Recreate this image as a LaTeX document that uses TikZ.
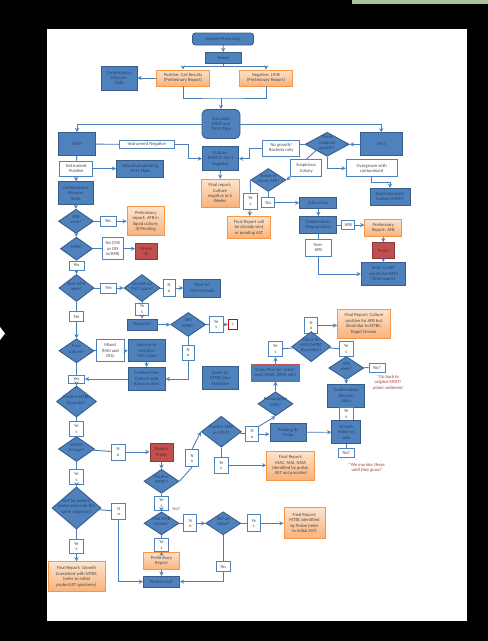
\documentclass[tikz,border=0pt]{standalone}
\usepackage{fontspec}
\setmainfont{Carlito}
\usetikzlibrary{shapes.geometric}

\definecolor{bfill}{HTML}{4F81BD}
\definecolor{bord}{HTML}{385D8A}
\definecolor{btext}{HTML}{24446E}
\definecolor{ofilltop}{HTML}{FDE3CC}
\definecolor{ofillbot}{HTML}{F9B27A}
\definecolor{oborder}{HTML}{F79646}
\definecolor{otext}{HTML}{4A4A4A}
\definecolor{rfill}{HTML}{C0504D}
\definecolor{rborder}{HTML}{8C3836}
\definecolor{rtext}{HTML}{6E2422}
\definecolor{lcol}{HTML}{4A7EBB}
\definecolor{notered}{HTML}{A0403E}
\definecolor{topbar}{HTML}{A9C29A}

\newcommand{\dtxt}[1]{\smash{\makebox[0pt]{\begin{tabular}{@{}c@{}}#1\end{tabular}}}}

\begin{document}
\begin{tikzpicture}[x=1pt,y=-1pt,
  font=\fontsize{4.6}{5.4}\selectfont, >=stealth,
  sz/.style 2 args={minimum width=#1,minimum height=#2},
  bbox/.style={rectangle,draw=bord,fill=bfill,line width=0.9pt,text=btext,align=center,inner sep=0.5pt},
  rbox/.style={bbox,rounded corners=3pt},
  obox/.style={rectangle,draw=oborder,top color=ofilltop,bottom color=ofillbot,line width=0.9pt,text=otext,align=center,inner sep=0.5pt},
  wbox/.style={rectangle,draw=bfill,fill=white,line width=0.9pt,text=otext,align=center,inner sep=0.5pt},
  redb/.style={rectangle,draw=rborder,fill=rfill,line width=0.9pt,text=rtext,align=center,inner sep=0.5pt},
  dec/.style={diamond,draw=bord,fill=bfill,line width=0.9pt,text=btext,inner sep=0pt},
  note/.style={text=notered,align=center,inner sep=0pt},
  con/.style={draw=lcol,line width=0.9pt},
  arr/.style={con,->}]

\useasboundingbox (0,0) rectangle (488,641);
\fill[black] (0,0) rectangle (488,641);
\fill[topbar] (352,0) rectangle (488,4);
\fill[white] (0,327) -- (5,333.5) -- (0,340) -- cycle;
\fill[white] (47,29) rectangle (467,621);

% top of the chart
\node[rbox,sz={61}{12}] (proc) at (223,39) {Sample/Processing};
\node[bbox,sz={36}{11}] (smear) at (223.5,58) {Smear};
\node[obox,sz={53}{16}] (pos) at (183,78) {Positive: Call Results\\(Preliminary Report)};
\node[obox,sz={53}{16}] (neg) at (266,78) {Negative: LIMS\\(Preliminary Report)};
\node[bbox,sz={36}{24}] (confslide) at (119,78) {Confirmatory\\Kinyoun\\Slide};
\node[bbox,rounded corners=5pt,sz={38}{29}] (inoc) at (221,124) {Inoculate\\MGIT and\\7H11 Plate};
\coordinate (split) at (223.5,66);
\coordinate (join) at (221,98);

\draw[arr] (proc) -- (smear);
\draw[con] (smear) -- (split);
\draw[arr] (split) -| (pos.north);
\draw[arr] (split) -| (neg.north);
\draw[arr] (pos) -- (confslide);
\draw[con] (pos.south) |- (join) -| (neg.south);
\draw[arr] (join) -- (inoc);

% MGIT side
\node[bbox,sz={37}{23}] (mgit) at (77,144) {MGIT};
\node[wbox,sz={55}{8}] (ineg) at (146.7,144.5) {Instrument Negative};
\node[bbox,sz={36}{24}] (cneg) at (220.5,158.7) {Culture:\\MGIT \& 7H11\\Negative};
\node[obox,sz={38}{28}] (fneg) at (220,193.3) {Final report:\\Culture\\negative at 6\\Weeks};
\node[wbox,sz={33}{15}] (ipos) at (76.3,168.5) {Instrument\\Positive};
\node[bbox,sz={47}{17}] (subpend) at (140,168.5) {Subculture pending\\7H11 Plate};
\node[bbox,sz={35}{23}] (kin1) at (75.8,193.3) {Confirmatory\\Kinyoun\\Stain};
\node[dec,sz={35}{24}] (afb1) at (76,221.3) {\dtxt{AFB\\seen?}};
\node[wbox,sz={16}{10}] (yes1) at (108,221.3) {Yes};
\node[obox,sz={37}{29}] (prelim1) at (145.7,221.3) {Preliminary\\report: AFB in\\liquid culture,\\ID Pending};
\node[dec,sz={32}{23}] (mtb1) at (76.5,248.7) {\dtxt{MTB?}};
\node[wbox,sz={21}{22}] (no1) at (112.8,248.7) {No (OIS\\or OIS\\w/AFB)};
\node[redb,sz={22}{16}] (red1) at (146.5,251.3) {Probe\\ID};
\node[wbox,sz={15}{9}] (yes2) at (76.5,265.5) {Yes};
\node[dec,sz={35}{27}] (nonmtb) at (76.5,288) {\dtxt{Non-MTB\\seen?}};
\node[wbox,sz={16}{10}] (yes3) at (108.7,288) {Yes};
\node[dec,sz={36}{27}] (gr7) at (142,288) {\dtxt{Growth on\\7H11 plate?}};
\node[wbox,sz={12}{17}] (no2) at (169,288) {N\\o};
\node[bbox,sz={37}{18}] (wait) at (202.3,288) {Wait for\\7H11 Growth};
\node[wbox,sz={13}{12}] (yes4) at (142,309) {Ye\\s};
\node[bbox,sz={30}{11}] (org) at (142,324.5) {Organism};
\node[dec,sz={35}{24}] (still) at (188.2,324.5) {\dtxt{Still\\MTBC?}};
\node[wbox,sz={14}{16}] (yes5) at (216.3,324.5) {Ye\\s};
\node[wbox,draw=red!85!black,sz={9}{10}] (qbox) at (232.8,324.5) {?};
\node[wbox,sz={14}{10}] (no3) at (76.5,316.7) {No};
\node[dec,sz={35}{24}] (pure) at (76.5,350.8) {\dtxt{Pure\\culture?}};
\node[wbox,sz={28}{22}] (mixed) at (110.2,350.8) {Mixed\\(MAI and\\OIS)};
\node[bbox,sz={37}{22}] (subout) at (146.7,350.8) {Sub-out to\\selective\\7H11 plate};
\node[bbox,sz={37}{23}] (confpure) at (146.7,379) {Confirm Pure\\Culture with\\Kinyoun stain};
\node[wbox,sz={12}{15}] (no4) at (188.2,352.5) {N\\o};
\node[wbox,sz={16}{8}] (yes6) at (76.5,379) {Yes};
\node[bbox,sz={36}{23}] (order) at (220.3,378.3) {Order for\\MTBC plus\\Sensititre};
\node[dec,sz={40}{31}] (posmtbc) at (76.5,401.5) {\dtxt{Positive MTBC\\by probe?}};
\node[wbox,sz={14}{15}] (yes7) at (76.5,429) {Ye\\s};
\node[dec,sz={36}{25}] (within) at (76.5,449) {\dtxt{Within\\14 days?}};
\node[wbox,sz={14}{16}] (no5) at (118,452) {N\\o};
\node[redb,sz={23}{18}] (red2) at (161.5,452) {Repeat\\Probe};
\node[dec,sz={35}{24}] (posm2) at (161.5,481.3) {\dtxt{Positive\\MTBC?}};
\node[wbox,sz={13}{17}] (no6) at (192,458.3) {N\\o};
\node[dec,sz={40}{31}] (posmac) at (221.3,431.7) {\dtxt{Positive MAC\\or NTM?}};
\node[wbox,sz={13}{15}] (no7) at (252,434.2) {N\\o};
\node[wbox,sz={14}{16}] (yes8) at (221.3,465.3) {Ye\\s};
\node[obox,sz={48}{29}] (fmac) at (290.8,465.5) {Final Report:\\MAC, MAI, NMA\\identified by probe,\\AST not provided};
\node[wbox,sz={14}{15}] (yes17) at (76.5,477) {Ye\\s};
\node[wbox,sz={14}{14}] (yes9) at (161.5,503) {Ye\\s};
\node[note] (noqr) at (176.5,509) {No?};
\node[dec,sz={49}{42}] (coinf) at (76.5,508) {\dtxt{AST for patient\\performed with the\\same organism?}};
\node[wbox,sz={14}{16}] (no8) at (118.8,511.3) {N\\o};
\node[wbox,sz={14}{14}] (yes10) at (76.5,546.3) {Ye\\s};
\node[obox,sz={57}{30}] (fgrowth) at (76.5,576.7) {Final Report: Growth\\Consistent with MTBC\\(refer to initial\\probe/AST specimen)};
\node[dec,sz={35}{23}] (mtbc3) at (161.5,523.3) {\dtxt{First MTB\\isolate?}};
\node[wbox,sz={13}{17}] (no9) at (190.3,523.3) {N\\o};
\node[dec,sz={35}{23}] (astini) at (223.2,523.3) {\dtxt{AST on\\initial?}};
\node[wbox,sz={13}{17}] (yes11) at (253.7,523.3) {Ye\\s};
\node[obox,sz={41}{31}] (fmtbc) at (304.5,523.3) {Final Report:\\MTBC identified\\by Probe (refer\\to initial AST)};
\node[wbox,sz={14}{10}] (no10) at (223.2,566.7) {No};
\node[wbox,sz={14}{13}] (yes12) at (161.5,545) {Ye\\s};
\node[obox,sz={36}{17}] (prelim2) at (161.5,560.8) {Preliminary\\Report};
\node[bbox,sz={36}{11}] (perf) at (161.5,581.7) {Perform AST};

% 7H11 side
\node[bbox,sz={42}{23}] (seven) at (381.2,144.3) {7H11};
\node[dec,sz={44}{24}] (ready) at (327.2,144.3) {\dtxt{Check\\ready for\\growth?}};
\node[wbox,sz={37}{16}] (nogrow) at (281.3,148) {No growth/\\Bacteria only};
\node[wbox,sz={51}{17}] (over) at (371.7,168.3) {Overgrown with\\contaminant};
\node[bbox,sz={40}{17}] (decon) at (390,196.7) {Decontaminate\\Culture (MGIT)};
\node[wbox,sz={31}{17}] (susp) at (306.2,168.3) {Suspicious\\Colony};
\node[dec,sz={35}{23}] (smafb) at (268.3,180) {\dtxt{Smear of\\colony AFB?}};
\node[wbox,sz={14}{16}] (yes13) at (250.5,201) {Ye\\s};
\node[obox,sz={43}{22}] (fpend) at (249,227.5) {Final Report will\\be already sent\\or pending AST};
\node[wbox,sz={13}{10}] (no11) at (268.3,202.8) {No};
\node[bbox,sz={37}{11}] (subcol) at (318.3,202.8) {Sub colony};
\node[bbox,sz={37}{17}] (kin2) at (318.3,225) {Confirmatory\\Kinyoun Stain};
\node[wbox,sz={13}{9}] (afbw) at (348.3,225) {AFB};
\node[obox,sz={37}{17}] (prelim3) at (383.3,228) {Preliminary\\Report: AFB};
\node[redb,sz={22}{16}] (red3) at (383.3,250.8) {Probe};
\node[wbox,sz={26}{17}] (nonafb) at (318.3,247.7) {Non-\\AFB};
\node[bbox,sz={44}{23}] (refer) at (383.3,274) {Refer to AST\\results for NTM\\(final report)};

\node[wbox,sz={13}{16}] (no12) at (311.2,325.5) {N\\o};
\node[obox,sz={53}{29}] (frg) at (364,323.7) {Final Report: Culture\\positive for AFB but\\dissimilar to MTBC,\\Rapid Grower};
\node[dec,sz={39}{30}] (check) at (311.2,346.7) {\dtxt{Check for\\MAC/MTBC\\by probes?}};
\node[wbox,sz={14}{15}] (yes14) at (275.5,349.2) {Ye\\s};
\node[bbox,draw=rfill,sz={48}{17}] (otherred) at (275.5,372.5) {Order/Run for `other'\\tests (MAC, NTM, etc.)};
\node[dec,sz={35}{24}] (presum) at (275.5,403.8) {\dtxt{Presumptive\\MAC?}};
\node[wbox,sz={14}{15}] (yes15) at (346.3,349.2) {Ye\\s};
\node[dec,sz={35}{23}] (afb3) at (346.3,368) {\dtxt{AFB\\seen?}};
\node[wbox,sz={16}{9}] (noq1) at (377,367.5) {No?};
\node[note] (note1) at (388,382.5) {*Go back to\\original MGIT/\\plate/ sediment};
\node[bbox,sz={37}{23}] (kin3) at (346.3,395.8) {Confirmatory\\Kinyoun\\Stain};
\node[wbox,sz={14}{13}] (yes16) at (346.3,414) {Ye\\s};
\node[bbox,sz={29}{23}] (growth) at (346.3,432.3) {Growth\\noted on\\subs};
\node[bbox,sz={36}{18}] (pendp) at (288,432.2) {Pending ID\\Probe};
\node[wbox,sz={16}{9}] (noq2) at (346.3,452.8) {No?};
\node[note] (note2) at (366.7,468) {*We monitor these\\until they grow?};

% connectors
\draw[arr] (inoc.west) -| (mgit.north);
\draw[arr] (inoc.east) -| (seven.north);
\draw[con] (mgit) -- (ineg);
\draw[arr] (ineg.east) -- ++(13.5,0) |- (cneg.west);
\draw[arr] (cneg) -- (fneg);
\draw[con] (mgit) -- (ipos);
\draw[arr] (ipos) -- (subpend);
\draw[arr] (ipos) -- (kin1);
\draw[arr] (kin1) -- (afb1);
\draw[con] (afb1) -- (yes1);
\draw[arr] (yes1) -- (prelim1);
\draw[arr] (afb1) -- (mtb1);
\draw[con] (mtb1) -- (no1);
\draw[arr] (no1) -- (red1.west |- no1);
\draw[con] (mtb1) -- (yes2);
\draw[arr] (yes2) -- (nonmtb);
\draw[con] (nonmtb) -- (yes3);
\draw[arr] (yes3) -- (gr7);
\draw[con] (gr7) -- (no2);
\draw[arr] (no2) -- (wait);
\draw[con] (gr7) -- (yes4);
\draw[arr] (yes4) -- (org);
\draw[arr] (org) -- (still);
\draw[con] (still) -- (yes5);
\draw[arr] (yes5) -- (qbox);
\draw[con] (still) -- (no4);
\draw[arr] (no4.south) |- (confpure.east);
\draw[con] (nonmtb) -- (no3);
\draw[arr] (no3) -- (pure);
\draw[con] (pure) -- (mixed);
\draw[arr] (mixed) -- (subout);
\draw[arr] (subout) -- (confpure);
\draw[arr] (confpure) -- (yes6);
\draw[con] (pure) -- (yes6);
\draw[arr] (yes6) -- (posmtbc);
\draw[con] (posmtbc) -- (yes7);
\draw[arr] (yes7) -- (within);
\draw[con] (within) -- (no5);
\draw[arr] (no5) -- (red2);
\draw[arr] (red2) -- (posm2);
\draw[con] (posm2.east) -- (no6.south);
\draw[arr] (no6.north) -- (posmac.west);
\draw[con] (posmac) -- (no7);
\draw[arr] (no7) -- (pendp.west |- no7);
\draw[arr] (no7.north east) -- (presum.south);
\draw[con] (posmac) -- (yes8);
\draw[arr] (yes8) -- (fmac.west |- yes8);
\draw[con] (within) -- (yes17);
\draw[arr] (yes17) -- (coinf);
\draw[con] (coinf) -- (no8);
\draw[arr] (no8.south) |- (perf.west);
\draw[con] (coinf) -- (yes10);
\draw[arr] (yes10) -- (fgrowth);
\draw[con] (posm2) -- (yes9);
\draw[arr] (yes9) -- (mtbc3);
\draw[con] (mtbc3) -- (no9);
\draw[arr] (no9) -- (astini);
\draw[con] (astini) -- (yes11);
\draw[arr] (yes11) -- (fmtbc);
\draw[con] (mtbc3) -- (yes12);
\draw[arr] (yes12) -- (prelim2);
\draw[arr] (prelim2) -- (perf);
\draw[con] (astini) -- (no10);
\draw[arr] (no10.south) |- (perf.east);

\draw[arr] (seven) -- (ready);
\draw[con] (ready) -- (nogrow.east |- ready);
\draw[arr] (nogrow.west) -- ++(-12.5,0) |- (cneg.east);
\draw[arr] (ready.south) |- (over.west);
\draw[arr] (over.south) -- ++(0,5) -| (decon.north);
\draw[con] (ready.south west) -- (susp.north);
\draw[arr] (susp.south west) -- (smafb.east);
\draw[con] (smafb.west) -- (yes13.north);
\draw[arr] (yes13) -- (fpend);
\draw[con] (smafb) -- (no11);
\draw[arr] (no11) -- (subcol);
\draw[arr] (subcol) -- (kin2);
\draw[con] (kin2) -- (afbw);
\draw[arr] (afbw) -- (prelim3.west |- afbw);
\draw[arr] (prelim3) -- (red3);
\draw[arr] (red3) -- (refer);
\draw[con] (kin2) -- (nonafb);
\draw[arr] (nonafb.south) |- (refer.west);

\draw[con] (check) -- (no12);
\draw[arr] (no12) -- (frg.west |- no12);
\draw[arr] (presum) -- (otherred);
\draw[arr] (otherred) -- (yes14);
\draw[con] (yes14) -- (check);
\draw[con] (check) -- (yes15);
\draw[arr] (yes15) -- (afb3);
\draw[con] (afb3) -- (noq1);
\draw[arr] (afb3) -- (kin3);
\draw[con] (kin3) -- (yes16);
\draw[arr] (yes16) -- (growth);
\draw[arr] (pendp) -- (growth);
\draw[con] (growth) -- (noq2);

\end{tikzpicture}
\end{document}
